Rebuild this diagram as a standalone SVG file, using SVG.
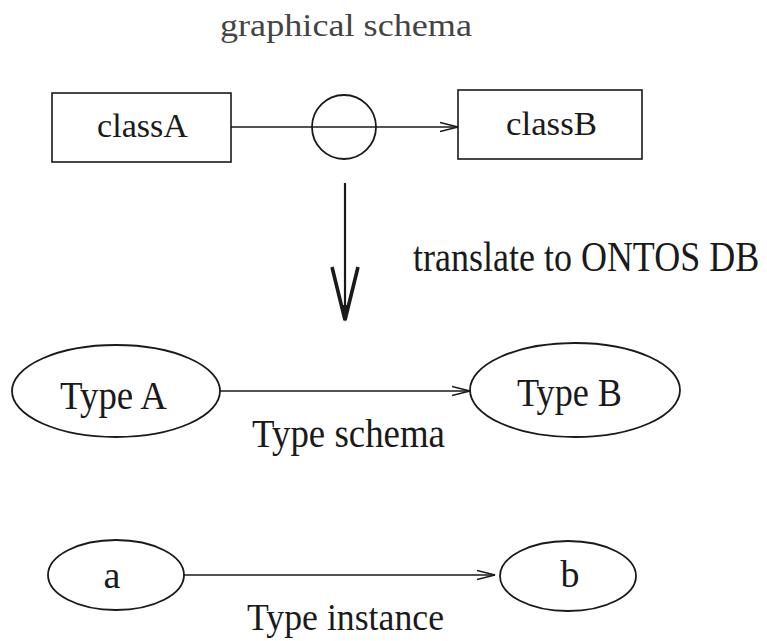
<svg xmlns="http://www.w3.org/2000/svg" width="767" height="641" viewBox="0 0 767 641">
<style>
  .txt { font-family: "Liberation Serif", "Times New Roman", serif; fill: #1a1a1a; }
  .box { fill: none; stroke: #1a1a1a; stroke-width: 1.6; }
  .ell { fill: none; stroke: #1a1a1a; stroke-width: 1.8; }
  .edge { fill: none; stroke: #1a1a1a; stroke-width: 1.5; }
</style>
<defs>
  <marker id="arr" markerUnits="userSpaceOnUse" markerWidth="22" markerHeight="14" refX="18" refY="6" orient="auto">
    <path d="M0,1.5 L18,6 L0,10.5" fill="none" stroke="#1a1a1a" stroke-width="1.6"/>
  </marker>
</defs>
<rect width="767" height="641" fill="#fff"/>

<text class="txt" x="220" y="36" font-size="31" textLength="252" lengthAdjust="spacingAndGlyphs" style="fill:#444">graphical schema</text>

<g id="classA">
  <rect class="box" x="52" y="93" width="179" height="69"/>
  <text class="txt" x="97" y="137" font-size="34" textLength="91" lengthAdjust="spacingAndGlyphs">classA</text>
</g>
<g id="classB">
  <rect class="box" x="458" y="90" width="184" height="69"/>
  <text class="txt" x="506" y="135" font-size="34" textLength="91" lengthAdjust="spacingAndGlyphs">classB</text>
</g>
<g id="relation">
  <circle class="ell" cx="344" cy="127" r="32"/>
</g>

<g id="translate">
  <text class="txt" transform="translate(413,271) scale(1,1.15)" x="0" y="0" font-size="36">translate to ONTOS DB</text>
</g>

<g id="TypeA">
  <ellipse class="ell" cx="116" cy="391" rx="104" ry="46"/>
  <text class="txt" x="60" y="409" font-size="40" textLength="107" lengthAdjust="spacingAndGlyphs">Type A</text>
</g>
<g id="TypeB">
  <ellipse class="ell" cx="575" cy="390" rx="105" ry="47"/>
  <text class="txt" x="517" y="406" font-size="40" textLength="105" lengthAdjust="spacingAndGlyphs">Type B</text>
</g>
<text class="txt" x="252" y="447" font-size="40" textLength="193" lengthAdjust="spacingAndGlyphs">Type schema</text>

<g id="a">
  <ellipse class="ell" cx="116" cy="575" rx="68" ry="35"/>
  <text class="txt" x="112" y="588" font-size="38" text-anchor="middle">a</text>
</g>
<g id="b">
  <ellipse class="ell" cx="568" cy="576" rx="68" ry="35"/>
  <text class="txt" x="570" y="587" font-size="38" text-anchor="middle">b</text>
</g>
<text class="txt" x="247" y="630" font-size="38" textLength="197" lengthAdjust="spacingAndGlyphs">Type instance</text>

<g id="connectors">
  <line class="edge" x1="231" y1="127" x2="458" y2="127" marker-end="url(#arr)"/>
  <line x1="345" y1="183" x2="345" y2="318" stroke="#1a1a1a" stroke-width="2.2"/>
  <path d="M332,267 L345,320 L358,267" fill="none" stroke="#1a1a1a" stroke-width="3.6" stroke-linejoin="miter"/>
  <path d="M341,305 L345,322 L349,305 Z" fill="#1a1a1a"/>
  <line class="edge" x1="220" y1="391" x2="470" y2="391" marker-end="url(#arr)"/>
  <line class="edge" x1="184" y1="575" x2="495" y2="575" marker-end="url(#arr)"/>
</g>
</svg>
